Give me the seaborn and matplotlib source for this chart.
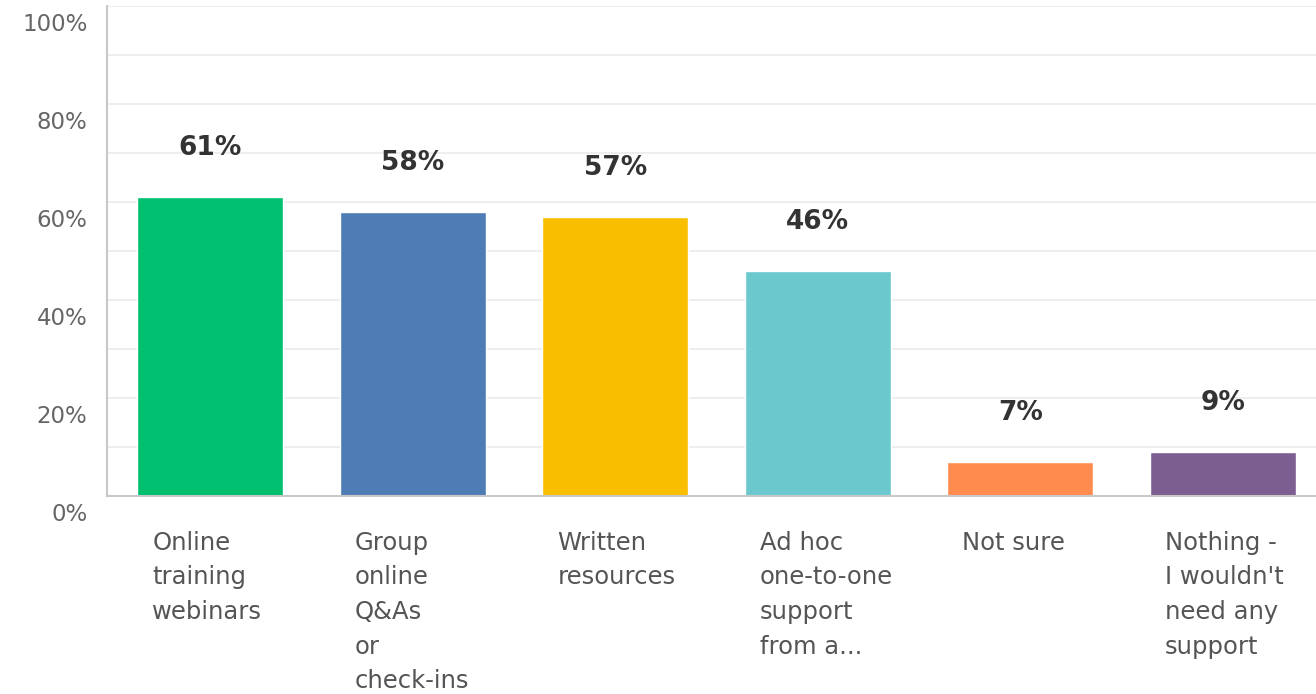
import matplotlib
matplotlib.use("Agg")
import matplotlib.pyplot as plt
import matplotlib.transforms as mtransforms
import seaborn as sns
import pandas as pd

# ── Data ──────────────────────────────────────────────────────
categories = ["Online training webinars", "Group online Q&As or check-ins",
              "Written resources", "Ad hoc one-to-one support from a...",
              "Not sure", "Nothing - I wouldn't need any support"]
tick_labels = ["Online\ntraining\nwebinars", "Group\nonline\nQ&As\nor\ncheck-ins",
               "Written\nresources", "Ad hoc\none-to-one\nsupport\nfrom a...",
               "Not sure", "Nothing -\nI wouldn't\nneed any\nsupport"]
values = [61, 58, 57, 46, 7, 9]
colors = ["#00BF6F", "#507CB6", "#F9BE00", "#6BC8CD", "#FF8B4F", "#7D5E90"]

df = pd.DataFrame({"answer": categories, "pct": values})

# ── Style ─────────────────────────────────────────────────────
sns.set_theme(style="white")
plt.rcParams["font.family"] = ["DejaVu Sans"]

fig = plt.figure(figsize=(13.16, 6.94), dpi=100)
ax = fig.add_axes([107 / 1316, 198 / 694, 1209 / 1316, 490 / 694])

sns.barplot(data=df, x="answer", y="pct", hue="answer", palette=colors,
            width=0.72, legend=False, saturation=1, ax=ax)

ax.set_ylim(0, 100)
ax.set_xlim(-0.51, 5.46)
ax.set_yticks(range(0, 101, 20))
ax.set_yticks(range(10, 100, 20), minor=True)
ax.set_yticklabels([f"{t}%" for t in range(0, 101, 20)], fontsize=16.5, color="#666666")
ax.grid(axis="y", which="both", color="#ebebeb", linewidth=1.2)
ax.set_axisbelow(True)
ax.tick_params(axis="y", which="both", length=0, pad=14)
ax.set_xlabel("")
ax.set_ylabel("")

for s in ["top", "right"]:
    ax.spines[s].set_visible(False)
for s in ["left", "bottom"]:
    ax.spines[s].set_color("#c8c8c8")
    ax.spines[s].set_linewidth(1.5)

# y labels sit a bit below their gridlines
ydown = mtransforms.ScaledTranslation(0, -16 / 100, fig.dpi_scale_trans)
for lab in ax.get_yticklabels():
    lab.set_transform(lab.get_transform() + ydown)

# x labels: left aligned, starting just inside the bar
ax.set_xticks(range(len(tick_labels)))
ax.set_xticklabels(tick_labels, fontsize=17.5, color="#555555", ha="left",
                   va="top", linespacing=1.56)
ax.tick_params(axis="x", length=0, pad=25)
xshift = mtransforms.ScaledTranslation(-58 / 100, 0, fig.dpi_scale_trans)
for lab in ax.get_xticklabels():
    lab.set_transform(lab.get_transform() + xshift)

# value labels above bars
for i, v in enumerate(values):
    ax.annotate(f"{v}%", (i, v), xytext=(0, 35), textcoords="offset points",
                ha="center", va="center", fontsize=19, fontweight="bold",
                color="#333333")

fig.savefig("out.png", dpi=100)
